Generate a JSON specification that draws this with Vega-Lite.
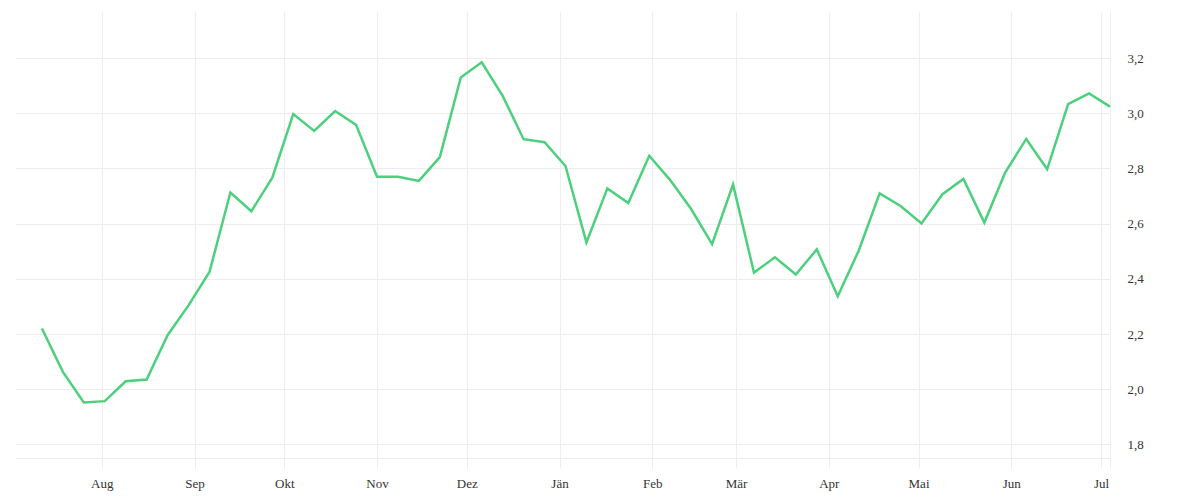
{
  "$schema": "https://vega.github.io/schema/vega-lite/v6.json",
  "autosize": "none",
  "width": 1095,
  "height": 446,
  "padding": {"left": 15, "top": 12, "right": 90, "bottom": 42},
  "background": "#ffffff",
  "config": {
    "view": {"stroke": null},
    "font": "Liberation Serif",
    "locale": {
      "number": {"decimal": ",", "thousands": ".", "grouping": [3], "currency": ["", " €"]}
    }
  },
  "data": {
    "format": {"parse": {"date": "utc:'%Y-%m-%d'"}},
    "values": [
      {"date": "2022-07-12", "value": 2.220},
      {"date": "2022-07-19", "value": 2.063},
      {"date": "2022-07-26", "value": 1.952},
      {"date": "2022-08-02", "value": 1.957},
      {"date": "2022-08-09", "value": 2.029},
      {"date": "2022-08-16", "value": 2.035},
      {"date": "2022-08-23", "value": 2.196},
      {"date": "2022-08-30", "value": 2.304},
      {"date": "2022-09-06", "value": 2.425},
      {"date": "2022-09-13", "value": 2.713},
      {"date": "2022-09-20", "value": 2.645},
      {"date": "2022-09-27", "value": 2.767},
      {"date": "2022-10-04", "value": 2.997},
      {"date": "2022-10-11", "value": 2.936},
      {"date": "2022-10-18", "value": 3.008},
      {"date": "2022-10-25", "value": 2.958},
      {"date": "2022-11-01", "value": 2.770},
      {"date": "2022-11-08", "value": 2.770},
      {"date": "2022-11-15", "value": 2.755},
      {"date": "2022-11-22", "value": 2.841},
      {"date": "2022-11-29", "value": 3.130},
      {"date": "2022-12-06", "value": 3.185},
      {"date": "2022-12-13", "value": 3.063},
      {"date": "2022-12-20", "value": 2.906},
      {"date": "2022-12-27", "value": 2.895},
      {"date": "2023-01-03", "value": 2.809},
      {"date": "2023-01-10", "value": 2.532},
      {"date": "2023-01-17", "value": 2.728},
      {"date": "2023-01-24", "value": 2.675},
      {"date": "2023-01-31", "value": 2.846},
      {"date": "2023-02-07", "value": 2.758},
      {"date": "2023-02-14", "value": 2.653},
      {"date": "2023-02-21", "value": 2.526},
      {"date": "2023-02-28", "value": 2.742},
      {"date": "2023-03-07", "value": 2.423},
      {"date": "2023-03-14", "value": 2.478},
      {"date": "2023-03-21", "value": 2.416},
      {"date": "2023-03-28", "value": 2.507},
      {"date": "2023-04-04", "value": 2.337},
      {"date": "2023-04-11", "value": 2.502},
      {"date": "2023-04-18", "value": 2.710},
      {"date": "2023-04-25", "value": 2.664},
      {"date": "2023-05-02", "value": 2.601},
      {"date": "2023-05-09", "value": 2.707},
      {"date": "2023-05-16", "value": 2.762},
      {"date": "2023-05-23", "value": 2.604},
      {"date": "2023-05-30", "value": 2.786},
      {"date": "2023-06-06", "value": 2.907},
      {"date": "2023-06-13", "value": 2.797},
      {"date": "2023-06-20", "value": 3.033},
      {"date": "2023-06-27", "value": 3.072},
      {"date": "2023-07-04", "value": 3.024}
    ]
  },
  "mark": {"type": "line", "color": "#4cd07d", "strokeWidth": 2.5, "strokeJoin": "miter"},
  "encoding": {
    "x": {
      "field": "date",
      "type": "temporal",
      "scale": {
        "type": "utc",
        "domain": [
          {"year": 2022, "month": 7, "date": 3, "utc": true},
          {"year": 2023, "month": 7, "date": 4, "utc": true}
        ]
      },
      "axis": {
        "title": null,
        "values": [
          {"year": 2022, "month": 8, "date": 1, "utc": true},
          {"year": 2022, "month": 9, "date": 1, "utc": true},
          {"year": 2022, "month": 10, "date": 1, "utc": true},
          {"year": 2022, "month": 11, "date": 1, "utc": true},
          {"year": 2022, "month": 12, "date": 1, "utc": true},
          {"year": 2023, "month": 1, "date": 1, "utc": true},
          {"year": 2023, "month": 2, "date": 1, "utc": true},
          {"year": 2023, "month": 3, "date": 1, "utc": true},
          {"year": 2023, "month": 4, "date": 1, "utc": true},
          {"year": 2023, "month": 5, "date": 1, "utc": true},
          {"year": 2023, "month": 6, "date": 1, "utc": true},
          {"year": 2023, "month": 7, "date": 1, "utc": true},
          {"year": 2023, "month": 7, "date": 4, "utc": true}
        ],
        "labelExpr": "utcdate(datum.value) == 1 ? ['Jän','Feb','Mär','Apr','Mai','Jun','Jul','Aug','Sep','Okt','Nov','Dez'][utcmonth(datum.value)] : ''",
        "grid": true,
        "gridColor": "#ededed",
        "gridWidth": 1,
        "ticks": true,
        "tickColor": "#ededed",
        "tickSize": 10,
        "tickWidth": 1,
        "domain": true,
        "domainColor": "#ededed",
        "domainWidth": 1,
        "labelFont": "Liberation Serif",
        "labelFontSize": 13,
        "labelColor": "#333333",
        "labelPadding": 9,
        "labelFlush": false,
        "labelOverlap": false
      }
    },
    "y": {
      "field": "value",
      "type": "quantitative",
      "scale": {"domain": [1.751, 3.367], "nice": false, "zero": false},
      "axis": {
        "title": null,
        "orient": "right",
        "values": [1.8, 2.0, 2.2, 2.4, 2.6, 2.8, 3.0, 3.2],
        "format": ".1f",
        "grid": true,
        "gridColor": "#ededed",
        "gridWidth": 1,
        "ticks": false,
        "domain": true,
        "domainColor": "#ededed",
        "labelFont": "Liberation Serif",
        "labelFontSize": 13,
        "labelColor": "#333333",
        "labelPadding": 17,
        "labelFlush": false,
        "labelOverlap": false
      }
    }
  }
}
